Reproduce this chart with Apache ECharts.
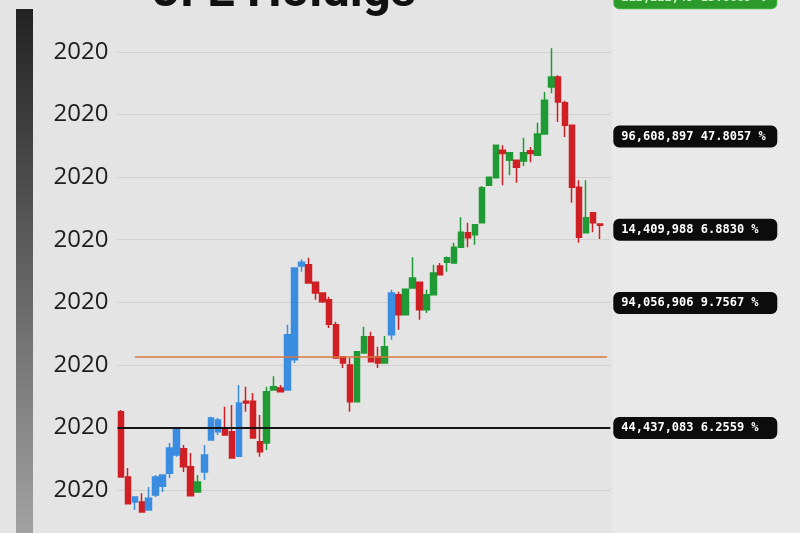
<!DOCTYPE html>
<html><head><meta charset="utf-8">
<script src="https://cdn.jsdelivr.net/npm/echarts@6/dist/echarts.min.js"></script>
<style>html,body{margin:0;padding:0;background:#e4e4e4}#c{width:800px;height:533px}</style>
</head><body><div id="c"></div>
<script>
// [open, close, low, high]
const ohlc = [
  [22.5, 12.1, 12.0, 22.8], [12.1, 7.8, 7.7, 13.5], [8.1, 8.9, 6.8, 9.0], [8.1, 6.5, 6.4, 9.5],
  [6.8, 8.7, 6.7, 10.5], [9.2, 12.1, 8.9, 12.4], [10.6, 12.4, 9.7, 12.5], [12.7, 16.7, 11.9, 17.5],
  [15.6, 19.9, 15.3, 20.0], [16.6, 13.7, 12.9, 17.2], [13.7, 9.1, 9.0, 15.9], [9.7, 11.3, 9.6, 12.4],
  [12.9, 15.6, 11.6, 17.2], [18.0, 21.5, 17.9, 21.7], [19.3, 21.2, 18.8, 21.5], [19.9, 18.8, 18.7, 23.3],
  [19.3, 15.1, 15.0, 23.6], [15.4, 23.9, 15.3, 26.8], [24.2, 23.9, 22.5, 26.5], [24.2, 18.3, 18.2, 25.5],
  [17.7, 16.1, 15.3, 22.0], [17.5, 25.7, 16.4, 26.5], [26.0, 26.5, 25.9, 28.2], [26.3, 25.7, 25.6, 26.8],
  [26.0, 34.8, 25.9, 36.4], [30.8, 45.5, 30.3, 45.6], [45.8, 46.4, 44.9, 46.9], [46.0, 43.1, 43.0, 47.1],
  [43.2, 41.5, 40.4, 43.3], [41.5, 40.1, 39.9, 41.6], [40.4, 36.5, 35.9, 40.9], [36.4, 31.1, 31.0, 36.9],
  [31.3, 30.3, 29.5, 31.4], [30.0, 24.1, 22.5, 31.1], [24.1, 32.1, 24.0, 32.2], [31.9, 34.5, 31.8, 36.1],
  [34.5, 30.5, 30.4, 35.3], [31.3, 30.3, 29.5, 32.9], [30.3, 32.9, 30.2, 34.6], [34.8, 41.5, 34.0, 42.0],
  [41.2, 38.0, 35.6, 41.7], [38.0, 42.1, 37.9, 42.2], [42.3, 43.9, 42.2, 47.2], [43.2, 38.8, 37.2, 43.3],
  [38.8, 41.2, 38.3, 42.0], [41.2, 44.7, 41.1, 46.0], [45.8, 44.4, 44.3, 46.3], [46.4, 47.1, 44.9, 47.3],
  [46.3, 48.8, 46.2, 49.5], [48.8, 51.2, 48.7, 53.6], [51.1, 50.3, 48.8, 52.7], [50.8, 52.4, 49.2, 52.5],
  [52.7, 58.3, 52.6, 58.6], [58.7, 60.0, 58.6, 60.1], [59.9, 65.1, 59.8, 65.2], [64.3, 63.8, 58.7, 65.1],
  [62.7, 63.9, 60.3, 64.0], [62.7, 61.6, 59.1, 62.8], [62.6, 63.9, 61.8, 66.3], [64.2, 63.8, 62.4, 64.8],
  [63.5, 66.9, 63.4, 68.7], [66.9, 72.3, 66.8, 73.6], [74.4, 76.0, 73.4, 80.6], [76.0, 72.0, 68.8, 76.3],
  [71.9, 68.3, 66.4, 72.2], [68.3, 58.4, 55.9, 68.4], [58.4, 50.4, 49.5, 59.5], [51.1, 53.5, 51.0, 59.5],
  [54.3, 52.7, 51.2, 54.4], [52.5, 52.3, 50.1, 52.6]
];
// sessions drawn in the blue tone
const blueDays = [2, 4, 5, 6, 7, 8, 12, 13, 14, 17, 24, 25, 26, 39];
const tickLabel = '2020';
const refLevel = 31.3;     // orange reference line
const baseLevel = 19.9;    // black base line
const refStart = 2;
const tags = [
  { value: 88.6, text: '112,222,49 13.6669 %', kind: 'green' },
  { value: 66.5, text: '96,608,897 47.8057 %', kind: 'dark' },
  { value: 51.6, text: '14,409,988 6.8830 %', kind: 'dark' },
  { value: 39.9, text: '94,056,906 9.7567 %', kind: 'dark' }
];
const baseTag = '44,437,083 6.2559 %';

const days = ohlc.map((_, i) => 'D' + (i + 1)).concat(['']);
const RED = '#cf1f25', BLUE = '#3a8de0', GREEN = '#1f9a34';

function tagLabel(text, kind) {
  return {
    show: true, position: 'end', distance: 4,
    formatter: text,
    color: kind === 'green' ? '#c9f5c4' : '#ffffff',
    backgroundColor: kind === 'green' ? '#2b9a2b' : '#0c0c0c',
    borderColor: kind === 'green' ? '#3fb83f' : '#0c0c0c', borderWidth: 1,
    borderRadius: 5, padding: [4, 7], width: 148,
    fontFamily: 'DejaVu Sans Mono', fontWeight: 'bold', fontSize: 12, lineHeight: 12
  };
}

const pat = document.createElement('canvas');
pat.width = 4; pat.height = 4;
const pc = pat.getContext('2d');
pc.fillStyle = '#ebebeb'; pc.fillRect(0, 0, 4, 4);
pc.fillStyle = '#dcdcdc'; pc.fillRect(0, 0, 1, 1); pc.fillRect(2, 2, 1, 1);

const chart = echarts.init(document.getElementById('c'), null, { renderer: 'canvas' });
const isBlue = i => blueDays.indexOf(i) >= 0;
chart.setOption({
  animation: false,
  backgroundColor: '#e4e4e4',
  title: {
    text: 'JFE Holdigs', left: 148, top: -36,
    textStyle: { fontFamily: 'Roboto', fontWeight: 'bold', fontSize: 49, color: '#111' }
  },
  graphic: [
    { type: 'rect', z: -1, shape: { x: 612, y: 0, width: 188, height: 533 },
      style: { fill: { image: pat, repeat: 'repeat' } } },
    { type: 'rect', z: 1, shape: { x: 16, y: 9, width: 17, height: 524 },
      style: { fill: new echarts.graphic.LinearGradient(0, 0, 0, 1, [
        { offset: 0, color: '#222222' }, { offset: 1, color: '#a2a2a2' }]) } }
  ],
  grid: { left: 117.5, right: 189.7, top: -10.57, bottom: -19.6, outerBoundsMode: 'none', containLabel: false },
  xAxis: {
    type: 'category', data: days, boundaryGap: true,
    axisLine: { show: false }, axisTick: { show: false }, axisLabel: { show: false },
    splitLine: { show: false }
  },
  yAxis: {
    type: 'value', min: 0, max: 90, interval: 10, scale: false,
    axisLine: { show: false }, axisTick: { show: false },
    axisLabel: {
      margin: 9, fontFamily: 'Open Sans', fontSize: 24, color: '#1d1d1d',
      formatter: v => (v === 0 || v === 90) ? '' : tickLabel
    },
    splitLine: { lineStyle: { color: '#d0d0d0', width: 1 } }
  },
  series: [
    {
      type: 'candlestick', name: 'main', clip: false, barWidth: 6,
      data: ohlc.map((d, i) => isBlue(i) ? '-' : d),
      itemStyle: { color: GREEN, color0: RED, borderColor: GREEN, borderColor0: RED, borderWidth: 1.5 },
      markLine: {
        silent: true, symbol: 'none', animation: false,
        data: [
          [{ coord: [refStart, refLevel], lineStyle: { color: '#d9773c', width: 1.6, type: 'solid' }, label: { show: false } },
           { coord: [days.length - 1, refLevel] }],
          { yAxis: baseLevel, lineStyle: { color: '#151515', width: 2, type: 'solid' }, label: tagLabel(baseTag, 'dark') }
        ].concat(tags.map(t => ({ yAxis: t.value, lineStyle: { color: 'rgba(0,0,0,0)', width: 1 }, label: tagLabel(t.text, t.kind) })))
      }
    },
    {
      type: 'candlestick', name: 'blue', clip: false, barWidth: 6,
      data: ohlc.map((d, i) => isBlue(i) ? d : '-'),
      itemStyle: { color: BLUE, color0: RED, borderColor: BLUE, borderColor0: RED, borderWidth: 1.5 }
    }
  ]
});
</script></body></html>
